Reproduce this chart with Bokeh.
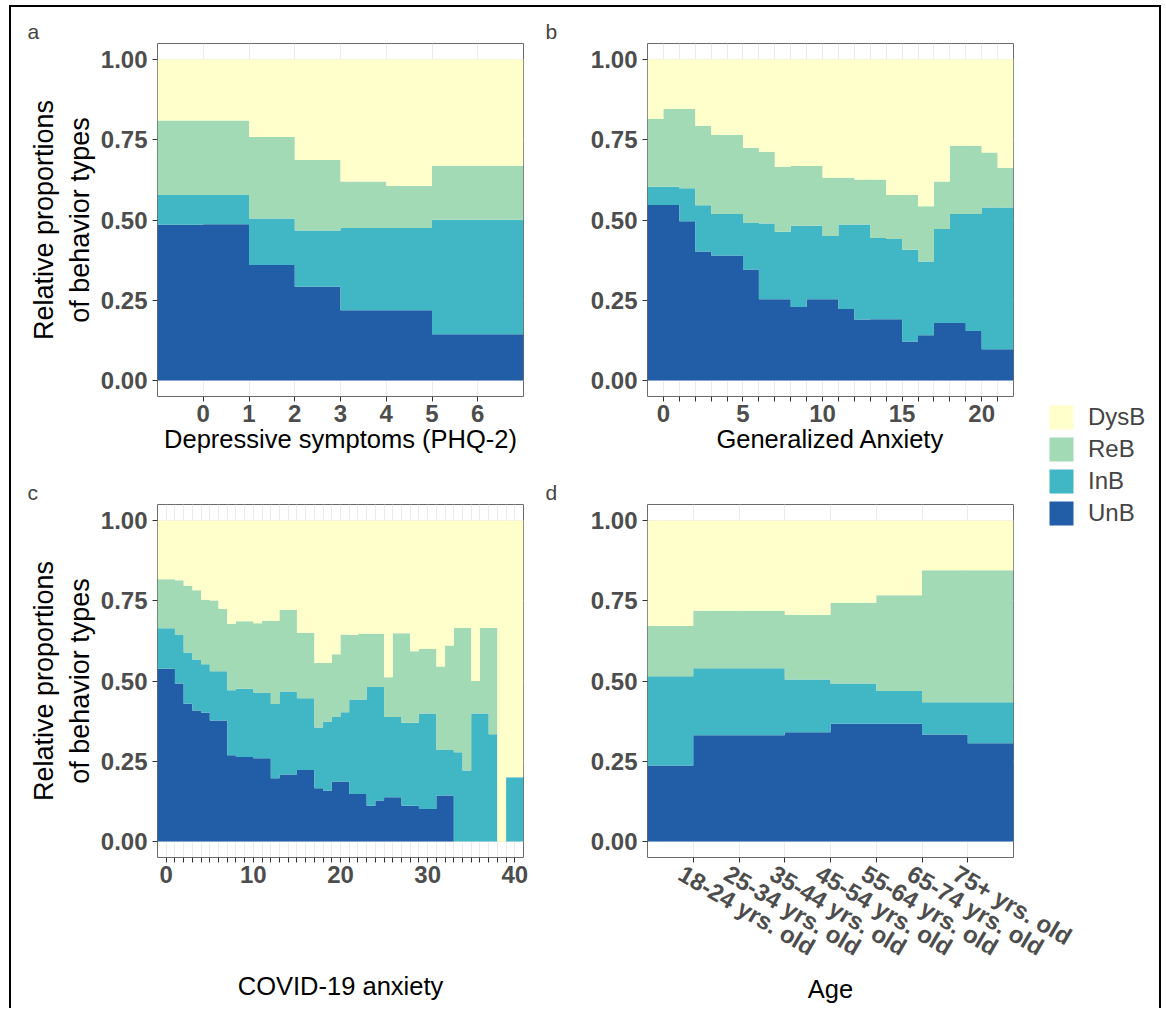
import numpy as np
from bokeh.plotting import figure
from bokeh.models import (FixedTicker, NumeralTickFormatter, Range1d, Legend, LegendItem,
                          LinearAxis)
from bokeh.layouts import row, column
from bokeh.embed import file_html
from bokeh.resources import INLINE

FONT = "Liberation Sans"
types = ["UnB", "InB", "ReB", "DysB"]
colors = {"UnB": "#225ea8", "InB": "#41b6c4", "ReB": "#a1dab4", "DysB": "#ffffcc"}

# ---- panel a: Depressive symptoms (PHQ-2) ----
phq_x = list(range(-1, 8))
phq_unb = [0.485, 0.487, 0.360, 0.292, 0.219, 0.219, 0.144, 0.144]
phq_inb = [0.093, 0.091, 0.145, 0.175, 0.256, 0.256, 0.357, 0.357]
phq_reb = [0.232, 0.232, 0.254, 0.220, 0.145, 0.131, 0.168, 0.168]
phq_dysb = [0.190, 0.190, 0.241, 0.313, 0.380, 0.394, 0.331, 0.331]
phq_ticks = list(range(0, 7))

# ---- panel b: Generalized Anxiety ----
gad_x = list(range(-1, 23))
gad_unb = [0.547, 0.547, 0.496, 0.402, 0.389, 0.389, 0.346, 0.253, 0.253, 0.229, 0.253, 0.253,
           0.223, 0.190, 0.191, 0.191, 0.121, 0.141, 0.179, 0.179, 0.154, 0.097, 0.097]
gad_inb = [0.057, 0.057, 0.103, 0.144, 0.130, 0.130, 0.145, 0.236, 0.210, 0.253, 0.229, 0.197,
           0.263, 0.296, 0.253, 0.250, 0.286, 0.230, 0.293, 0.340, 0.365, 0.442, 0.442]
gad_reb = [0.211, 0.242, 0.247, 0.248, 0.246, 0.246, 0.234, 0.224, 0.203, 0.186, 0.186, 0.182,
           0.146, 0.140, 0.182, 0.137, 0.171, 0.172, 0.148, 0.212, 0.212, 0.171, 0.124]
gad_dysb = [0.185, 0.154, 0.154, 0.206, 0.235, 0.235, 0.275, 0.287, 0.334, 0.332, 0.332, 0.368,
            0.368, 0.374, 0.374, 0.422, 0.422, 0.457, 0.380, 0.269, 0.269, 0.290, 0.337]
gad_ticks = list(range(0, 22))
gad_labelled = [0, 5, 10, 15, 20]

# ---- panel c: COVID-19 anxiety ----
cov_x = list(range(-1, 42))
cov_unb = [0.538, 0.538, 0.492, 0.429, 0.408, 0.401, 0.377, 0.377, 0.269, 0.263, 0.263, 0.259,
           0.259, 0.197, 0.209, 0.209, 0.223, 0.223, 0.166, 0.158, 0.187, 0.187, 0.148, 0.148,
           0.111, 0.128, 0.138, 0.138, 0.111, 0.111, 0.101, 0.101, 0.143, 0.143, 0.0, 0.0,
           0.0, 0.0, 0.0, 0.0, 0.0, 0.0]
cov_inb = [0.126, 0.126, 0.151, 0.160, 0.159, 0.151, 0.153, 0.153, 0.202, 0.213, 0.213, 0.205,
           0.205, 0.231, 0.258, 0.258, 0.223, 0.223, 0.189, 0.215, 0.201, 0.216, 0.294, 0.294,
           0.370, 0.353, 0.250, 0.250, 0.259, 0.259, 0.298, 0.298, 0.142, 0.142, 0.278, 0.221,
           0.399, 0.399, 0.334, 0.0, 0.200, 0.200]
cov_reb = [0.153, 0.153, 0.171, 0.208, 0.216, 0.201, 0.221, 0.194, 0.207, 0.210, 0.210, 0.216,
           0.224, 0.260, 0.254, 0.254, 0.204, 0.204, 0.201, 0.183, 0.195, 0.242, 0.201, 0.205,
           0.166, 0.166, 0.124, 0.261, 0.279, 0.223, 0.201, 0.201, 0.260, 0.326, 0.387, 0.444,
           0.101, 0.266, 0.331, 0.0, 0.0, 0.0]
cov_dysb = [0.183, 0.183, 0.186, 0.203, 0.217, 0.247, 0.249, 0.276, 0.322, 0.314, 0.314, 0.320,
            0.312, 0.312, 0.279, 0.279, 0.350, 0.350, 0.444, 0.444, 0.417, 0.355, 0.357, 0.353,
            0.353, 0.353, 0.488, 0.351, 0.351, 0.407, 0.400, 0.400, 0.455, 0.389, 0.335, 0.335,
            0.500, 0.335, 0.335, 1.000, 0.800, 0.800]
cov_ticks = list(range(0, 41))
cov_labelled = [0, 10, 20, 30, 40]

# ---- panel d: Age ----
age_x = list(range(0, 9))
age_unb = [0.237, 0.331, 0.331, 0.340, 0.367, 0.367, 0.333, 0.306]
age_inb = [0.278, 0.209, 0.209, 0.165, 0.125, 0.102, 0.101, 0.128]
age_reb = [0.156, 0.179, 0.179, 0.201, 0.252, 0.298, 0.411, 0.411]
age_dysb = [0.329, 0.281, 0.281, 0.294, 0.256, 0.233, 0.155, 0.155]
age_ticks = [1, 2, 3, 4, 5, 6, 7]
age_labels = ["18-24 yrs. old", "25-34 yrs. old", "35-44 yrs. old", "45-54 yrs. old",
              "55-64 yrs. old", "65-74 yrs. old", "75+ yrs. old"]

y_ticks = [0.0, 0.25, 0.5, 0.75, 1.0]
y_title = "Relative proportions\nof behavior types"
legend_order = ["DysB", "ReB", "InB", "UnB"]

FRAME_W = 366


def style_axis(ax, bold_size="24px"):
    ax.axis_line_color = None
    ax.major_tick_line_color = "#333333"
    ax.major_tick_out = 5
    ax.major_tick_in = 0
    ax.minor_tick_line_color = None
    ax.major_label_text_font = FONT
    ax.major_label_text_font_style = "bold"
    ax.major_label_text_font_size = bold_size
    ax.major_label_text_color = "#4d4d4d"
    ax.axis_label_text_font = FONT
    ax.axis_label_text_font_style = "normal"
    ax.axis_label_text_font_size = "25.5px"
    ax.axis_label_text_color = "black"


def make_panel(letter, edges, series, ticks, labels, xtitle, ytitle,
               width, height, mbl, mbr, mbt, mbb, title_offset, xtitle_standoff=0):
    p = figure(width=width, height=height, output_backend="svg", toolbar_location=None,
               x_range=Range1d(edges[0], edges[-1]), y_range=Range1d(-0.05, 1.05),
               min_border_left=mbl, min_border_right=mbr, min_border_top=mbt,
               min_border_bottom=mbb, background_fill_color="white",
               border_fill_color="white")
    xs = np.repeat(np.array(edges, dtype=float), 2)[1:-1]
    bottom = np.zeros(len(edges) - 1)
    for t in types:
        top = bottom + np.array(series[t])
        p.varea(x=xs, y1=np.repeat(bottom, 2), y2=np.repeat(top, 2),
                fill_color=colors[t], fill_alpha=1.0)
        bottom = top
    p.outline_line_color = "#6b6b6b"
    p.outline_line_width = 1
    p.xgrid.grid_line_color = "#ebebeb"
    p.ygrid.grid_line_color = "#ebebeb"
    p.xaxis.ticker = FixedTicker(ticks=ticks)
    p.yaxis.ticker = FixedTicker(ticks=y_ticks)
    p.yaxis.formatter = NumeralTickFormatter(format="0.00")
    if labels is not None:
        p.xaxis.major_label_overrides = labels
    style_axis(p.xaxis[0])
    style_axis(p.yaxis[0])
    p.xaxis.major_label_standoff = 3
    p.yaxis.major_label_standoff = 5
    if xtitle:
        p.xaxis.axis_label = xtitle
        p.xaxis.axis_label_standoff = xtitle_standoff
    if ytitle:
        p.yaxis.axis_label = ytitle
        p.yaxis.axis_label_standoff = 3
        p.yaxis.axis_label_text_font_size = "27px"
    p.title.text = letter
    p.title.align = "left"
    p.title.offset = title_offset
    p.title.text_font = FONT
    p.title.text_font_style = "normal"
    p.title.text_font_size = "21px"
    p.title.standoff = 1
    return p


def series_of(u, i, r, d):
    return {"UnB": u, "InB": i, "ReB": r, "DysB": d}


def only(labelled, ticks):
    return {t: (str(t) if t in labelled else "") for t in ticks}


TOP_H = 457
BOT_H = 544
RIGHT_W = 619
LEG_W = 139

fa = make_panel("a", phq_x, series_of(phq_unb, phq_inb, phq_reb, phq_dysb), phq_ticks, None,
                "Depressive symptoms (PHQ-2)", y_title, 529, TOP_H, 146, 17, 36, 68, -130)
fb = make_panel("b", gad_x, series_of(gad_unb, gad_inb, gad_reb, gad_dysb), gad_ticks,
                only(gad_labelled, gad_ticks), "Generalized Anxiety", None,
                RIGHT_W, TOP_H, 107, 146, 36, 68, -102)
fc = make_panel("c", cov_x, series_of(cov_unb, cov_inb, cov_reb, cov_dysb), cov_ticks,
                only(cov_labelled, cov_ticks), "COVID-19 anxiety", y_title,
                529, BOT_H, 146, 17, 40, 151, -130, xtitle_standoff=86)
fd = make_panel("d", age_x, series_of(age_unb, age_inb, age_reb, age_dysb), age_ticks,
                {t: "" for t in age_ticks}, None, None,
                RIGHT_W, BOT_H, 107, 146, 40, 151, -102)
fd.xaxis[0].major_label_standoff = 0
fd.xaxis[0].major_label_text_font_size = "0px"

# rotated age labels: second axis whose labels start slightly left of each tick (like hjust=0)
shift = 12.5 * (age_x[-1] - age_x[0]) / FRAME_W
age_label_pos = [t - shift for t in age_ticks]
age_axis = LinearAxis(ticker=FixedTicker(ticks=age_label_pos),
                      major_label_overrides={pos: l for pos, l in zip(age_label_pos, age_labels)})
style_axis(age_axis)
age_axis.major_tick_line_color = None
age_axis.major_tick_out = 0
age_axis.major_label_standoff = 9
age_axis.major_label_orientation = -0.53
age_axis.axis_label = "Age"
age_axis.axis_label_standoff = 0
fd.add_layout(age_axis, "below")

# transparent legend overlay laid over the right-hand strip of panels b and d
lg = figure(width=LEG_W, height=TOP_H + BOT_H, output_backend="svg", toolbar_location=None,
            x_axis_location=None, y_axis_location=None, min_border=0,
            x_range=Range1d(0, 1), y_range=Range1d(0, 1),
            margin=(0, 0, 0, -LEG_W))
lg.outline_line_color = None
lg.grid.visible = False
lg.background_fill_alpha = 0
lg.border_fill_alpha = 0
items = []
for t in legend_order:
    r = lg.varea(x=[0, 1], y1=[0, 0], y2=[0, 0], fill_color=colors[t], fill_alpha=1.0)
    items.append(LegendItem(label=t, renderers=[r]))
leg = Legend(items=items, location=(26, TOP_H + BOT_H - 395 - 126), padding=0, margin=0,
             spacing=2, glyph_width=30, glyph_height=30, label_standoff=12,
             label_text_font=FONT, label_text_font_size="24px",
             border_line_color=None, background_fill_alpha=0)
lg.add_layout(leg)

layout = row(column(fa, fc), column(fb, fd), lg, margin=(5, 0, 0, 9),
             styles={"border": "2px solid black", "border-bottom": "none"})

open("out.html", "w").write(file_html(layout, INLINE))
